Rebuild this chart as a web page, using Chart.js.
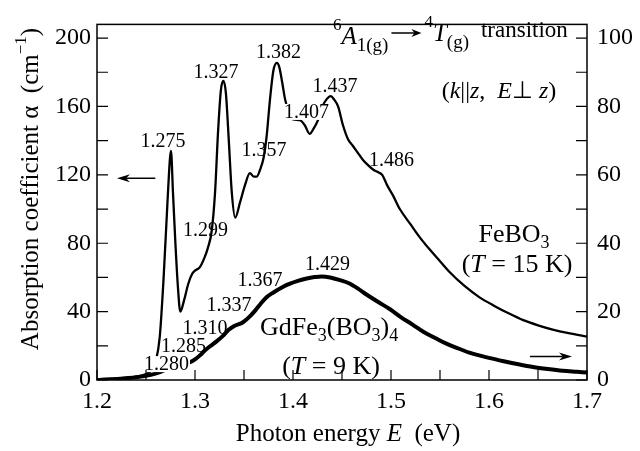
<!DOCTYPE html>
<html>
<head>
<meta charset="utf-8">
<script src="https://cdn.jsdelivr.net/npm/chart.js@4.4.0/dist/chart.umd.min.js"></script>
<style>
  body { margin: 0; background: #fff; }
  canvas { display: block; }
</style>
</head>
<body>
<canvas id="chart" width="640" height="451"></canvas>
<script>
// FeBO3, T = 15 K (left axis, cm^-1)
const energyFe = [1.200, 1.220, 1.240, 1.250, 1.256, 1.260, 1.264, 1.268, 1.272, 1.2745,
  1.2755, 1.2775, 1.280, 1.2825, 1.285, 1.289, 1.293, 1.297, 1.300, 1.305,
  1.310, 1.313, 1.317, 1.3205, 1.3235, 1.3265, 1.329, 1.3315, 1.3345, 1.3375,
  1.341, 1.346, 1.351, 1.356, 1.360, 1.363, 1.367, 1.370, 1.373, 1.3765,
  1.380, 1.3835, 1.386, 1.389, 1.392, 1.396, 1.400, 1.407, 1.412, 1.417,
  1.421, 1.4255, 1.430, 1.434, 1.4385, 1.442, 1.446, 1.451, 1.456, 1.461,
  1.466, 1.471, 1.476, 1.482, 1.487, 1.491, 1.496, 1.502, 1.509, 1.520,
  1.530, 1.540, 1.550, 1.560, 1.575, 1.590, 1.605, 1.620, 1.635, 1.650,
  1.665, 1.680, 1.700];
const alphaFe = [0.5, 1, 2, 3.5, 6, 11, 25, 60, 105, 130,
  134, 110, 80, 55, 40, 47, 56, 62, 64, 66,
  72, 77, 87, 110, 145, 170, 175, 168, 140, 110,
  95, 104, 114, 121, 119, 119, 124, 130, 142, 164,
  181, 185.5, 183, 174, 164, 156, 152.5, 152, 149, 144,
  147, 152, 160, 164, 166, 164, 160, 149, 141, 137,
  133, 129, 126, 123, 121.5, 120, 114, 108, 100, 91,
  83, 76, 69.5, 63, 55, 48.5, 43.5, 39, 35, 32,
  29.5, 27.5, 25.4];

// GdFe3(BO3)4, T = 9 K (right axis)
const energyGd = [1.200, 1.220, 1.240, 1.255, 1.265, 1.275, 1.285, 1.295, 1.300, 1.305,
  1.310, 1.315, 1.322, 1.3285, 1.334, 1.340, 1.349, 1.356, 1.362, 1.367,
  1.373, 1.380, 1.390, 1.397, 1.405, 1.414, 1.422, 1.429, 1.438, 1.448,
  1.457, 1.466, 1.475, 1.487, 1.499, 1.510, 1.522, 1.533, 1.545, 1.556,
  1.567, 1.580, 1.590, 1.601, 1.615, 1.630, 1.645, 1.660, 1.675, 1.690,
  1.700];
const alphaGd = [0, 0.3, 0.8, 1.5, 2.4, 3.6, 4.5, 5.2, 6.0, 7.2,
  8.6, 9.8, 11.3, 12.9, 14.6, 15.8, 16.9, 18.6, 20.5, 22.3,
  24.2, 25.6, 27.3, 28.2, 29, 29.7, 30.1, 30.3, 30, 29.2,
  28.3, 26.8, 25, 22.8, 20.7, 18.4, 16.2, 14.1, 12.3, 10.7,
  9.4, 8.0, 7.2, 6.4, 5.5, 4.6, 3.8, 3.2, 2.7, 2.4,
  2.2];

const xTicks = [1.2, 1.25, 1.3, 1.35, 1.4, 1.45, 1.5, 1.55, 1.6, 1.65, 1.7];
const yLeftTicks = [0, 20, 40, 60, 80, 100, 120, 140, 160, 180, 200];
const yRightTicks = [0, 10, 20, 30, 40, 50, 60, 70, 80, 90, 100];

// peak labels: text, energy, left-axis height of the label centre
const peakLabels = ["1.275", "1.327", "1.382", "1.437", "1.407", "1.357", "1.486",
  "1.299", "1.429", "1.367", "1.337", "1.310", "1.285", "1.280"];
const peakLabelX = [1.2673, 1.3214, 1.3852, 1.4429, 1.4138, 1.3704, 1.5005,
  1.3107, 1.4352, 1.3663, 1.3347, 1.3102, 1.2883, 1.2709];
const peakLabelY = [140, 180.5, 192, 172.3, 156.8, 134.5, 129,
  87.9, 67.8, 58.8, 44, 30.8, 20, 9.3];
const maskedLabels = ["1.407", "1.280"];

const FONT = '"Liberation Serif", "Times New Roman", serif';

function fnt(size, italic) {
  return (italic ? "italic " : "") + size + "px " + FONT;
}

// draw mixed runs of text (italic, sub/superscripts) on one baseline, returns end x
function drawRuns(ctx, runs, x, y, align) {
  ctx.textBaseline = "alphabetic";
  ctx.textAlign = "left";
  let total = 0;
  runs.forEach(r => {
    ctx.font = fnt(r.size, r.it);
    r.w = ctx.measureText(r.t).width;
    total += r.w;
  });
  let cx = align === "center" ? x - total / 2 : (align === "right" ? x - total : x);
  runs.forEach(r => {
    ctx.font = fnt(r.size, r.it);
    ctx.fillText(r.t, cx, y + (r.dy || 0));
    cx += r.w;
  });
  return cx;
}

function arrow(ctx, x1, y1, x2, y2, hl, hw) {
  hl = hl || 13; hw = hw || 4;
  const ang = Math.atan2(y2 - y1, x2 - x1);
  ctx.beginPath();
  ctx.moveTo(x1, y1);
  ctx.lineTo(x2 - hl * 0.7 * Math.cos(ang), y2 - hl * 0.7 * Math.sin(ang));
  ctx.lineWidth = 1.5;
  ctx.stroke();
  ctx.beginPath();
  ctx.moveTo(x2, y2);
  ctx.lineTo(x2 - hl * Math.cos(ang) + hw * Math.sin(ang), y2 - hl * Math.sin(ang) - hw * Math.cos(ang));
  ctx.lineTo(x2 - hl * 0.7 * Math.cos(ang), y2 - hl * 0.7 * Math.sin(ang));
  ctx.lineTo(x2 - hl * Math.cos(ang) - hw * Math.sin(ang), y2 - hl * Math.sin(ang) + hw * Math.cos(ang));
  ctx.closePath();
  ctx.fill();
}

const decorations = {
  id: "decorations",
  afterDatasetsDraw(chart) {
    const ctx = chart.ctx;
    const { left, right, top, bottom } = chart.chartArea;
    const sx = chart.scales.x, sy = chart.scales.y, sy2 = chart.scales.y2;
    ctx.save();
    ctx.fillStyle = "#000";
    ctx.strokeStyle = "#000";

    // peak labels
    ctx.font = fnt(20, false);
    ctx.textAlign = "center";
    ctx.textBaseline = "middle";
    peakLabels.forEach((t, i) => {
      const px = sx.getPixelForValue(peakLabelX[i]);
      const py = sy.getPixelForValue(peakLabelY[i]);
      if (maskedLabels.includes(t)) {
        const w = ctx.measureText(t).width;
        ctx.fillStyle = "#fff";
        ctx.fillRect(px - w / 2 - 1, py - 8, w + 2, 16);
        ctx.fillStyle = "#000";
      }
      ctx.fillText(t, px, py + 1);
    });

    // frame
    ctx.lineWidth = 1.5;
    ctx.strokeRect(left, top, right - left, bottom - top);

    // inward ticks
    ctx.lineWidth = 1.2;
    ctx.beginPath();
    xTicks.forEach(v => {
      const px = sx.getPixelForValue(v);
      ctx.moveTo(px, bottom);
      ctx.lineTo(px, bottom - 10);
    });
    yLeftTicks.forEach(v => {
      const py = sy.getPixelForValue(v);
      ctx.moveTo(left, py);
      ctx.lineTo(left + 11, py);
    });
    yRightTicks.forEach(v => {
      const py = sy2.getPixelForValue(v);
      ctx.moveTo(right, py);
      ctx.lineTo(right - 11, py);
    });
    ctx.stroke();

    // arrows showing which axis each curve uses
    arrow(ctx, sx.getPixelForValue(1.2595), sy.getPixelForValue(118),
      sx.getPixelForValue(1.2204), sy.getPixelForValue(118));
    arrow(ctx, sx.getPixelForValue(1.6418), sy2.getPixelForValue(6.9),
      sx.getPixelForValue(1.6847), sy2.getPixelForValue(6.9));

    // transition title
    let ex = drawRuns(ctx, [
      { t: "6", size: 17, dy: -14 },
      { t: "A", size: 25, it: true },
      { t: "1(g)", size: 19, dy: 7 }
    ], 333, 44, "left");
    arrow(ctx, ex + 3, 33, ex + 33, 33, 10, 4);
    ex = drawRuns(ctx, [
      { t: "4", size: 17, dy: -14 },
      { t: "T", size: 25, it: true },
      { t: "(g)", size: 19, dy: 7 }
    ], ex + 36, 41, "left");
    drawRuns(ctx, [{ t: "transition", size: 23 }], ex + 12, 37, "left");

    drawRuns(ctx, [
      { t: "(", size: 24 },
      { t: "k", size: 24, it: true },
      { t: "||", size: 24 },
      { t: "z", size: 24, it: true },
      { t: ",  ", size: 24 },
      { t: "E", size: 24, it: true },
      { t: "\u22A5 ", size: 24 },
      { t: "z", size: 24, it: true },
      { t: ")", size: 24 }
    ], 499, 98, "center");

    drawRuns(ctx, [
      { t: "FeBO", size: 26 },
      { t: "3", size: 18, dy: 6 }
    ], 514, 242, "center");
    drawRuns(ctx, [
      { t: "(", size: 26 },
      { t: "T", size: 26, it: true },
      { t: " = 15 K)", size: 26 }
    ], 517, 272, "center");

    drawRuns(ctx, [
      { t: "GdFe", size: 26 },
      { t: "3", size: 18, dy: 6 },
      { t: "(BO", size: 26 },
      { t: "3", size: 18, dy: 6 },
      { t: ")", size: 26 },
      { t: "4", size: 18, dy: 6 }
    ], 260, 335, "left");
    drawRuns(ctx, [
      { t: "(", size: 26 },
      { t: "T", size: 26, it: true },
      { t: " = 9 K)", size: 26 }
    ], 331, 374, "center");

    // axis titles
    drawRuns(ctx, [
      { t: "Photon energy ", size: 25 },
      { t: "E", size: 25, it: true },
      { t: "  (eV)", size: 25 }
    ], 348, 441, "center");

    ctx.translate(38, 189);
    ctx.rotate(-Math.PI / 2);
    drawRuns(ctx, [
      { t: "Absorption coefficient \u03B1  (cm", size: 25 },
      { t: "\u22121", size: 17, dy: -12 },
      { t: ")", size: 25 }
    ], 0, 0, "center");

    ctx.restore();
  }
};

const tickFont = { family: FONT, size: 24 };

new Chart(document.getElementById("chart"), {
  type: "line",
  data: {
    datasets: [
      {
        label: "FeBO3",
        data: energyFe.map((e, i) => ({ x: e, y: alphaFe[i] })),
        yAxisID: "y",
        borderColor: "#000",
        borderWidth: 2.3,
        pointRadius: 0,
        fill: false,
        cubicInterpolationMode: "monotone"
      },
      {
        label: "GdFe3(BO3)4",
        data: energyGd.map((e, i) => ({ x: e, y: alphaGd[i] })),
        yAxisID: "y2",
        borderColor: "#000",
        borderWidth: 4,
        pointRadius: 0,
        fill: false,
        cubicInterpolationMode: "monotone"
      }
    ]
  },
  options: {
    responsive: false,
    animation: false,
    devicePixelRatio: 1,
    layout: { padding: { top: 12, left: 0, right: 0, bottom: 0 } },
    plugins: { legend: { display: false }, tooltip: { enabled: false } },
    scales: {
      x: {
        type: "linear",
        min: 1.2,
        max: 1.7,
        grid: { display: false, drawTicks: false },
        border: { display: false },
        afterBuildTicks: s => { s.ticks = xTicks.map(v => ({ value: v })); },
        afterFit: s => { s.height = 71; },
        ticks: {
          autoSkip: false,
          maxRotation: 0,
          padding: 7,
          color: "#000",
          font: tickFont,
          callback: v => (Math.abs(v * 10 - Math.round(v * 10)) < 1e-6 ? v.toFixed(1) : "")
        }
      },
      y: {
        position: "left",
        min: 0,
        max: 208,
        grid: { display: false, drawTicks: false },
        border: { display: false },
        afterBuildTicks: s => { s.ticks = yLeftTicks.map(v => ({ value: v })); },
        afterFit: s => { s.width = 97; },
        ticks: {
          autoSkip: false,
          padding: 6,
          color: "#000",
          font: tickFont,
          callback: v => (v % 40 === 0 ? String(v) : "")
        }
      },
      y2: {
        position: "right",
        min: 0,
        max: 104,
        grid: { display: false, drawTicks: false },
        border: { display: false },
        afterBuildTicks: s => { s.ticks = yRightTicks.map(v => ({ value: v })); },
        afterFit: s => { s.width = 53; },
        ticks: {
          autoSkip: false,
          padding: 10,
          color: "#000",
          font: tickFont,
          callback: v => (v % 20 === 0 ? String(v) : "")
        }
      }
    }
  },
  plugins: [decorations]
});
</script>
</body>
</html>
